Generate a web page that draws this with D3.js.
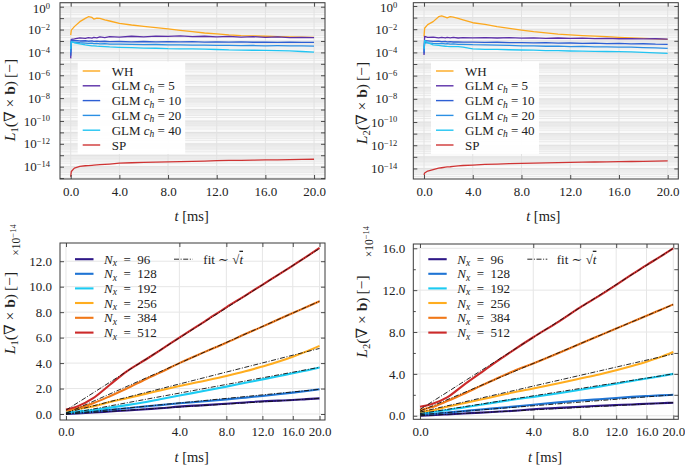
<!DOCTYPE html>
<html><head><meta charset="utf-8">
<script src="https://cdn.jsdelivr.net/npm/d3@7"></script>
<style>
body{margin:0;background:#fff}
svg{display:block}
text{font-family:"Liberation Serif","DejaVu Serif",serif;fill:#222}
</style>
</head><body>
<svg id="c" width="685" height="468"></svg>
<script>
// ---------------- DATA ----------------
const tTop = [0,0.05,0.3,0.75,1.2,1.45,1.75,1.9,2.15,2.4,2.8,3.2,4,5,6,7,8,9,10,11,12,13,14,15,16,17,18,19,20];
const topSeriesNames = ["WH","GLM c_h=5","GLM c_h=10","GLM c_h=20","GLM c_h=40","SP"];
const topLegendC = [null,"5","10","20","40",null];

// L1 (top-left)
const L1_WH    = [3.3e-3,9e-3,1.8e-2,4.9e-2,9.5e-2,1.33e-1,1.15e-1,8.3e-2,1.02e-1,9.5e-2,6.9e-2,5.6e-2,3.5e-2,2.5e-2,1.9e-2,1.45e-2,1.15e-2,8.5e-3,6.5e-3,5.0e-3,4.2e-3,3.4e-3,3.0e-3,2.8e-3,2.6e-3,2.45e-3,2.3e-3,2.2e-3,2.1e-3];
const L1_GLM5  = [3e-5,1.4e-3,1.5e-3,1.9e-3,1.7e-3,2.0e-3,1.8e-3,2.1e-3,1.9e-3,2.3e-3,2.0e-3,2.4e-3,2.2e-3,2.6e-3,2.3e-3,2.7e-3,2.5e-3,2.8e-3,2.4e-3,2.6e-3,2.3e-3,2.5e-3,2.2e-3,2.4e-3,2.1e-3,2.3e-3,2.0e-3,2.1e-3,1.95e-3];
const L1_GLM10 = [5e-5,1.2e-3,1.1e-3,1.0e-3,1.05e-3,0.95e-3,1.0e-3,0.92e-3,0.98e-3,0.9e-3,0.95e-3,0.88e-3,0.9e-3,0.85e-3,0.9e-3,0.83e-3,0.88e-3,0.82e-3,0.86e-3,0.8e-3,0.84e-3,0.78e-3,0.82e-3,0.77e-3,0.8e-3,0.76e-3,0.79e-3,0.75e-3,0.76e-3];
const L1_GLM20 = [1e-4,8.7e-4,8.0e-4,7.0e-4,6.6e-4,6.2e-4,6.4e-4,5.9e-4,6.1e-4,5.6e-4,5.8e-4,5.3e-4,5.2e-4,5.0e-4,4.7e-4,4.9e-4,4.5e-4,4.6e-4,4.3e-4,4.4e-4,4.1e-4,4.2e-4,3.9e-4,4.0e-4,3.8e-4,3.85e-4,3.7e-4,3.75e-4,3.6e-4];
const L1_GLM40 = [2e-4,8.7e-4,7.0e-4,5.5e-4,4.5e-4,4.2e-4,3.8e-4,3.7e-4,3.5e-4,3.4e-4,3.2e-4,3.0e-4,2.8e-4,2.6e-4,2.4e-4,2.3e-4,2.1e-4,2.05e-4,2.0e-4,1.9e-4,1.8e-4,1.65e-4,1.6e-4,1.55e-4,1.5e-4,1.45e-4,1.35e-4,1.2e-4,1.05e-4];
const L1_SP    = [1.3e-15,3.8e-15,7.5e-15,1.05e-14,1.2e-14,1.25e-14,1.32e-14,1.36e-14,1.42e-14,1.48e-14,1.6e-14,1.7e-14,2.0e-14,2.2e-14,2.4e-14,2.5e-14,2.6e-14,2.8e-14,2.9e-14,3.1e-14,3.35e-14,3.5e-14,3.6e-14,3.75e-14,3.9e-14,4.0e-14,4.15e-14,4.3e-14,4.45e-14];

// L2 (top-right)
const L2_WH    = [2.3e-3,1.2e-2,2.5e-2,4.5e-2,1.2e-1,1.38e-1,1.1e-1,9.5e-2,1.2e-1,1.1e-1,8.5e-2,6.3e-2,3.6e-2,2.6e-2,1.7e-2,1.2e-2,8.5e-3,6.2e-3,4.8e-3,3.8e-3,3.2e-3,2.8e-3,2.5e-3,2.3e-3,2.0e-3,1.8e-3,1.6e-3,1.45e-3,1.35e-3];
const L2_GLM5  = [6e-5,2.4e-3,2.0e-3,2.1e-3,1.8e-3,2.0e-3,1.75e-3,1.95e-3,1.8e-3,1.95e-3,1.75e-3,1.9e-3,1.8e-3,1.9e-3,1.75e-3,1.85e-3,1.7e-3,1.8e-3,1.65e-3,1.75e-3,1.6e-3,1.7e-3,1.55e-3,1.6e-3,1.5e-3,1.55e-3,1.45e-3,1.5e-3,1.4e-3];
const L2_GLM10 = [8e-5,1.05e-3,1.0e-3,9e-4,9.5e-4,8.5e-4,9e-4,8.2e-4,8.6e-4,7.9e-4,8.2e-4,7.6e-4,7.8e-4,7.2e-4,7.5e-4,6.9e-4,7.1e-4,6.6e-4,6.9e-4,6.3e-4,6.5e-4,6.0e-4,6.2e-4,5.7e-4,5.9e-4,5.4e-4,5.6e-4,5.1e-4,5.0e-4];
const L2_GLM20 = [1.2e-4,7e-4,6.5e-4,6.0e-4,5.7e-4,5.9e-4,5.4e-4,5.6e-4,5.2e-4,5.4e-4,4.9e-4,5.0e-4,4.6e-4,4.4e-4,4.2e-4,4.0e-4,3.6e-4,3.7e-4,3.4e-4,3.5e-4,3.2e-4,3.3e-4,3.0e-4,3.05e-4,2.8e-4,2.85e-4,2.6e-4,2.5e-4,2.25e-4];
const L2_GLM40 = [2e-4,1.07e-3,7e-4,4.4e-4,4.0e-4,3.7e-4,3.4e-4,3.3e-4,3.2e-4,3.1e-4,3.15e-4,2.8e-4,2.0e-4,1.85e-4,1.8e-4,1.7e-4,1.62e-4,1.55e-4,1.45e-4,1.4e-4,1.32e-4,1.28e-4,1.25e-4,1.2e-4,1.15e-4,1.1e-4,1.0e-4,9.0e-5,8.3e-5];
const L2_SP    = [2.7e-15,4e-15,6e-15,8e-15,1.05e-14,1.15e-14,1.3e-14,1.35e-14,1.4e-14,1.5e-14,1.65e-14,1.8e-14,1.95e-14,2.2e-14,2.4e-14,2.55e-14,2.7e-14,2.85e-14,3.0e-14,3.2e-14,3.3e-14,3.45e-14,3.6e-14,3.7e-14,3.8e-14,3.95e-14,4.1e-14,4.25e-14,4.4e-14];

// bottom panels (values in units of 1e-14)
const tBot = [0,0.04,0.23,0.6,1.15,2,2.75,4,6,8,10,12,14,16,18,20];
const Nx = ["96","128","192","256","384","512"];
const bL1_96  = [0.0,0.05,0.12,0.2,0.28,0.38,0.45,0.58,0.7,0.81,0.91,1.0,1.05,1.1,1.17,1.23];
const bL1_128 = [0.05,0.1,0.2,0.33,0.45,0.6,0.7,0.84,1.0,1.15,1.29,1.42,1.55,1.68,1.81,1.94];
const bL1_192 = [0.13,0.2,0.31,0.5,0.7,0.95,1.16,1.45,1.82,2.15,2.45,2.72,2.97,3.2,3.42,3.65];
const bL1_256 = [0.26,0.4,0.6,0.95,1.24,1.6,1.85,2.2,2.62,2.99,3.35,3.73,4.1,4.5,4.92,5.35];
const bL1_384 = [0.3,0.45,0.85,1.4,2.0,2.75,3.25,4.0,4.88,5.6,6.28,6.86,7.42,7.93,8.4,8.85];
const bL1_512 = [0.35,0.6,1.25,2.3,3.35,4.3,5.0,6.0,7.28,8.38,9.3,10.15,10.92,11.66,12.36,13.04];
const tFit = [0,20];
const fitL1_96  = [0.0,1.23];
const fitL1_128 = [0.0,1.94];
const fitL1_192 = [0.0,3.67];
const fitL1_256 = [0.1,5.15];
const fitL1_384 = [0.05,8.86];
const fitL1_512 = [0.3,13.0];

const bL2_96  = [0.0,0.05,0.13,0.22,0.3,0.4,0.47,0.62,0.75,0.86,0.95,1.02,1.08,1.15,1.2,1.24];
const bL2_128 = [0.13,0.18,0.3,0.45,0.6,0.75,0.87,1.05,1.28,1.45,1.58,1.7,1.8,1.88,1.95,2.0];
const bL2_192 = [0.29,0.35,0.55,0.8,1.05,1.35,1.55,1.8,2.15,2.48,2.78,3.06,3.32,3.56,3.78,4.0];
const bL2_256 = [0.38,0.5,0.85,1.2,1.55,1.95,2.25,2.6,3.1,3.55,3.95,4.35,4.75,5.16,5.6,6.1];
const bL2_384 = [0.54,0.8,1.4,2.1,2.85,3.7,4.28,5.0,6.0,6.88,7.64,8.33,8.97,9.56,10.1,10.64];
const bL2_512 = [0.86,1.1,1.75,2.95,4.1,5.4,6.3,7.5,9.0,10.35,11.45,12.5,13.5,14.4,15.2,15.99];
const fitL2_96  = [0.0,1.25];
const fitL2_128 = [0.1,2.0];
const fitL2_192 = [0.2,4.0];
const fitL2_256 = [0.35,5.9];
const fitL2_384 = [0.44,10.63];
const fitL2_512 = [0.6,16.0];

const xTicks = [0,4,8,12,16,20];
const decades = d3.range(-15,1);
const bL1Ticks = [0,2,4,6,8,10,12];
const bL2Ticks = [0,4,8,12,16];
const bL2Minor = [2,6,10,14];

// ---------------- STYLE ----------------
const topColors = ["#fca81e","#5b2fa8","#2d5fd4","#2b8fe4","#22c4f2","#cf3434"];
const botColors = ["#2f1887","#1f74d4","#1ccbf2","#ffad1f","#f07818","#cc2a2a"];

const svg = d3.select("#c");

function supText(sel, base, exp, dy, ss){
  sel.text(null);
  sel.append("tspan").text(base);
  sel.append("tspan").attr("dy", -dy).attr("font-size", ss).text(exp);
}

function frame(g, P){
  g.append("rect").attr("x",P.x0).attr("y",P.y0).attr("width",P.x1-P.x0).attr("height",P.y1-P.y0)
    .attr("fill","none").attr("stroke","#3a3a3a").attr("stroke-width",1);
}

function styleAxis(a){
  a.select(".domain").remove();
  a.selectAll(".tick line").attr("stroke","#3a3a3a").attr("stroke-width",0.9);
  a.selectAll("text").attr("font-family","Liberation Serif, DejaVu Serif, serif").attr("font-size",13).attr("fill","#222");
}

// ---------------- TOP PANELS ----------------
function topPanel(P, series, labelSub, ylabPos, padY){
  const g = svg.append("g");
  const x = d3.scaleLinear().domain(P.xdom).range([P.x0,P.x1]);
  const y = d3.scaleLog().domain(P.ydom).range([P.y1,P.y0]);
  g.append("rect").attr("x",P.x0).attr("y",P.y0).attr("width",P.x1-P.x0).attr("height",P.y1-P.y0).attr("fill","#fafafa");
  const minor = [];
  decades.forEach(d => { for(let k=2;k<10;k++){ const v=k*Math.pow(10,d); if(v>P.ydom[0] && v<P.ydom[1]) minor.push(v);} });
  g.selectAll(".mg").data(minor).join("line")
    .attr("x1",P.x0).attr("x2",P.x1).attr("y1",d=>y(d)).attr("y2",d=>y(d))
    .attr("stroke","#e9e9e9").attr("stroke-width",1);
  const maj = decades.map(d=>Math.pow(10,d)).filter(v=>v>P.ydom[0]&&v<P.ydom[1]);
  g.selectAll(".Mg").data(maj).join("line")
    .attr("x1",P.x0).attr("x2",P.x1).attr("y1",d=>y(d)).attr("y2",d=>y(d))
    .attr("stroke","#e0e0e0").attr("stroke-width",1);
  g.selectAll(".vg").data(xTicks).join("line")
    .attr("x1",d=>x(d)).attr("x2",d=>x(d)).attr("y1",P.y0).attr("y2",P.y1)
    .attr("stroke","#e2e2e2").attr("stroke-width",1);

  const line = d3.line().x((d,i)=>x(tTop[i])).y(d=>y(d));
  series.forEach((s,i)=>{
    g.append("path").datum(s).attr("d",line).attr("fill","none")
      .attr("stroke",topColors[i]).attr("stroke-width",1.3).attr("stroke-linejoin","round");
  });

  const ax = g.append("g").attr("transform",`translate(0,${P.y1})`)
    .call(d3.axisBottom(x).tickValues(xTicks).tickSizeInner(-4).tickSizeOuter(0).tickPadding(8).tickFormat(d3.format(".1f")));
  styleAxis(ax);
  const axT = g.append("g").attr("transform",`translate(0,${P.y0})`)
    .call(d3.axisTop(x).tickValues(xTicks).tickSizeInner(-4).tickSizeOuter(0).tickFormat(""));
  styleAxis(axT);
  const ay = g.append("g").attr("transform",`translate(${P.x0},0)`)
    .call(d3.axisLeft(y).tickValues(maj).tickSizeInner(-4).tickSizeOuter(0).tickPadding(padY));
  styleAxis(ay);
  ay.selectAll(".tick text").each(function(d){
    const e = Math.round(Math.log10(d));
    const t = d3.select(this);
    if (e % 2 !== 0) { t.text(""); return; }
    if (e === 0) t.attr("dy","0.45em");
    supText(t, "10", e===0 ? "0" : "\u2212"+Math.abs(e), 4.2, 8.5);
  });
  const ayR = g.append("g").attr("transform",`translate(${P.x1},0)`)
    .call(d3.axisRight(y).tickValues(maj).tickSizeInner(-4).tickSizeOuter(0).tickFormat(""));
  styleAxis(ayR);
  frame(g,P);

  const L = P.leg;
  g.append("rect").attr("x",L.x).attr("y",L.y).attr("width",L.w).attr("height",L.h).attr("fill","#fff").attr("opacity",0.95);
  const rows = [71,85.8,100.6,115.4,130.2,145];
  topSeriesNames.forEach((n,i)=>{
    const ry = rows[i];
    g.append("line").attr("x1",L.x+5).attr("x2",L.x+22.5).attr("y1",ry).attr("y2",ry)
      .attr("stroke",topColors[i]).attr("stroke-width",1.4);
    const t = g.append("text").attr("x",L.x+34).attr("y",ry+4.5).attr("font-size",13);
    if (topLegendC[i] === null) t.text(n);
    else {
      t.append("tspan").text("GLM ");
      t.append("tspan").attr("font-style","italic").text("c");
      t.append("tspan").attr("font-style","italic").attr("font-size",9.5).attr("dy",2.5).text("h");
      t.append("tspan").attr("dy",-2.5).text(" = " + topLegendC[i]);
    }
  });

  const xl = g.append("text").attr("x",P.xl[0]).attr("y",P.xl[1]).attr("text-anchor","middle").attr("font-size",14.5);
  xl.append("tspan").attr("font-style","italic").text("t");
  xl.append("tspan").text(" [ms]");
  yLabel(g, ylabPos, labelSub);
}

function yLabel(g, pos, sub){
  const t = g.append("text").attr("transform",`translate(${pos[0]},${pos[1]}) rotate(-90)`)
    .attr("text-anchor","middle").attr("font-size",15.5);
  t.append("tspan").attr("font-style","italic").text("L");
  t.append("tspan").attr("font-size",10.5).attr("dy",3).text(sub);
  t.append("tspan").attr("dy",-3).text("(\u2207 \u00D7 ");
  t.append("tspan").attr("font-weight","bold").text("b");
  t.append("tspan").text(")\u2009[\u2212]");
}

topPanel({x0:60,x1:325,y0:2.7,y1:179,xdom:[-0.88,20.9],ydom:[Math.pow(10,-15.08),Math.pow(10,0.35)],
  leg:{x:77.7,y:61.5,w:107.5,h:92.5}, xl:[191.7,221]},
  [L1_WH,L1_GLM5,L1_GLM10,L1_GLM20,L1_GLM40,L1_SP], "1", [14.5,100], 10);
topPanel({x0:413.3,x1:678.3,y0:2.7,y1:179,xdom:[-0.88,20.87],ydom:[Math.pow(10,-14.91),Math.pow(10,0.284)],
  leg:{x:431,y:61.5,w:108,h:92.5}, xl:[543.3,221]},
  [L2_WH,L2_GLM5,L2_GLM10,L2_GLM20,L2_GLM40,L2_SP], "2", [366.5,103], 16);

// ---------------- BOTTOM PANELS ----------------
function botPanel(P, series, fits, sub, yTicks, yMinor){
  const g = svg.append("g");
  const x = d3.scaleSqrt().domain(P.xdom).range([P.x0,P.x1]);
  const y = d3.scaleLinear().domain(P.ydom).range([P.y1,P.y0]);
  g.append("rect").attr("x",P.x0).attr("y",P.y0).attr("width",P.x1-P.x0).attr("height",P.y1-P.y0).attr("fill","#fff");
  g.selectAll(".hg").data(yTicks).join("line")
    .attr("x1",P.x0).attr("x2",P.x1).attr("y1",d=>y(d)).attr("y2",d=>y(d))
    .attr("stroke","#e6e6e6").attr("stroke-width",1);
  g.selectAll(".vg").data(xTicks).join("line")
    .attr("x1",d=>x(d)).attr("x2",d=>x(d)).attr("y1",P.y0).attr("y2",P.y1)
    .attr("stroke","#e6e6e6").attr("stroke-width",1);

  const line = d3.line().curve(d3.curveMonotoneX).x((d,i)=>x(tBot[i])).y(d=>y(d));
  series.forEach((s,i)=>{
    g.append("path").datum(s).attr("d",line).attr("fill","none")
      .attr("stroke",botColors[i]).attr("stroke-width",2.1).attr("stroke-linejoin","round");
  });
  const fline = d3.line().x((d,i)=>x(tFit[i])).y(d=>y(d));
  fits.forEach(f=>{
    g.append("path").datum(f).attr("d",fline).attr("fill","none")
      .attr("stroke","#111").attr("stroke-width",0.9).attr("stroke-dasharray","5,1.6,1,1.6");
  });

  const ax = g.append("g").attr("transform",`translate(0,${P.y1})`)
    .call(d3.axisBottom(x).tickValues(xTicks).tickSizeInner(-4).tickSizeOuter(0).tickPadding(7).tickFormat(d3.format(".1f")));
  styleAxis(ax);
  const axT = g.append("g").attr("transform",`translate(0,${P.y0})`)
    .call(d3.axisTop(x).tickValues(xTicks).tickSizeInner(-4).tickSizeOuter(0).tickFormat(""));
  styleAxis(axT);
  const ay = g.append("g").attr("transform",`translate(${P.x0},0)`)
    .call(d3.axisLeft(y).tickValues(yTicks).tickSizeInner(-4).tickSizeOuter(0).tickPadding(8).tickFormat(d3.format(".1f")));
  styleAxis(ay);
  const ayR = g.append("g").attr("transform",`translate(${P.x1},0)`)
    .call(d3.axisRight(y).tickValues(yTicks.concat(yMinor)).tickSizeInner(-4).tickSizeOuter(0).tickFormat(""));
  styleAxis(ayR);
  if (yMinor.length){
    const aym = g.append("g").attr("transform",`translate(${P.x0},0)`)
      .call(d3.axisLeft(y).tickValues(yMinor).tickSizeInner(-2.5).tickSizeOuter(0).tickFormat(""));
    styleAxis(aym);
  }
  frame(g,P);

  const L = P.leg;
  const rows = [259.2,273.8,288.4,303,317.8,332.6];
  Nx.forEach((n,i)=>{
    const ry = rows[i];
    g.append("line").attr("x1",L.lx0).attr("x2",L.lx1).attr("y1",ry).attr("y2",ry)
      .attr("stroke",botColors[i]).attr("stroke-width",2.1);
    const t = g.append("text").attr("x",L.tx).attr("y",ry+4.5).attr("font-size",13);
    t.append("tspan").attr("font-style","italic").text("N");
    t.append("tspan").attr("font-style","italic").attr("font-size",9.5).attr("dy",2.5).text("x");
    t.append("tspan").attr("dy",-2.5).text("\u2002=\u2002" + n);
  });
  g.append("line").attr("x1",L.fx0).attr("x2",L.fx1).attr("y1",rows[0]).attr("y2",rows[0])
    .attr("stroke","#111").attr("stroke-width",0.9).attr("stroke-dasharray","5,1.6,1,1.6");
  const ft = g.append("text").attr("x",L.ftx).attr("y",rows[0]+4.5).attr("font-size",13);
  ft.append("tspan").text("fit \u223C \u221A");
  ft.append("tspan").attr("font-style","italic").attr("text-decoration","overline").text("t");

  const xl = g.append("text").attr("x",P.xl[0]).attr("y",P.xl[1]).attr("text-anchor","middle").attr("font-size",14.5);
  xl.append("tspan").attr("font-style","italic").text("t");
  xl.append("tspan").text(" [ms]");
  yLabel(g, P.yl, sub);
  const mt = g.append("text").attr("transform",`translate(${P.mul[0]},${P.mul[1]}) rotate(-90)`)
    .attr("text-anchor","middle").attr("font-size",11.5);
  supText(mt, "\u00D710", "\u221214", 4.5, 8.5);
}

botPanel({x0:60,x1:325,y0:243,y1:420,xdom:[-0.0112,20.87],ydom:[-0.47,13.43],
  leg:{lx0:75,lx1:93.5,tx:104,fx0:174,fx1:192.7,ftx:203.3}, xl:[191.7,462], yl:[15,313], mul:[20,240]},
  [bL1_96,bL1_128,bL1_192,bL1_256,bL1_384,bL1_512],
  [fitL1_96,fitL1_128,fitL1_192,fitL1_256,fitL1_384,fitL1_512], "1", bL1Ticks, []);
botPanel({x0:413.3,x1:678.3,y0:244,y1:419.3,xdom:[-0.014,20.8],ydom:[-0.34,16.41],
  leg:{lx0:428.3,lx1:446.7,tx:457.3,fx0:527.3,fx1:547.3,ftx:556.7}, xl:[545,462], yl:[367,316.5], mul:[373,241.7]},
  [bL2_96,bL2_128,bL2_192,bL2_256,bL2_384,bL2_512],
  [fitL2_96,fitL2_128,fitL2_192,fitL2_256,fitL2_384,fitL2_512], "2", bL2Ticks, bL2Minor);
</script>
</body></html>
